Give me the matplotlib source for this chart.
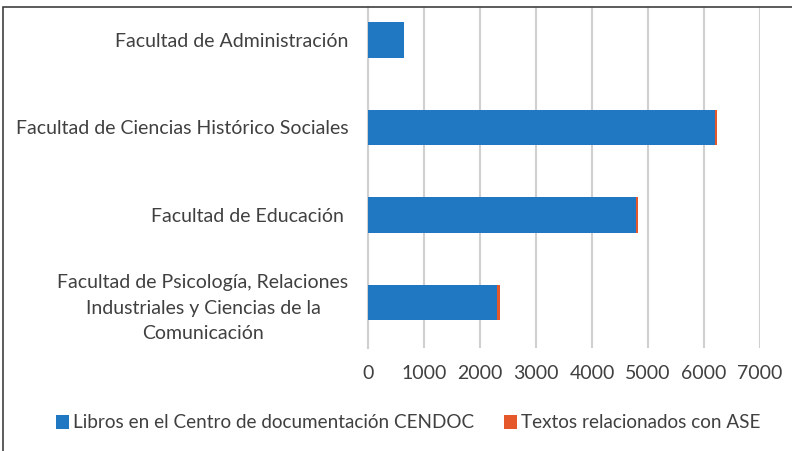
import matplotlib.pyplot as plt
from matplotlib.patches import Rectangle

facultades = [
    "Facultad de Administración",
    "Facultad de Ciencias Histórico Sociales",
    "Facultad de Educación ",
    "Facultad de Psicología, Relaciones\nIndustriales y Ciencias de la\nComunicación",
]
libros = [640, 6190, 4780, 2310]
textos_ase = [6, 35, 35, 40]
x_ticks = [0, 1000, 2000, 3000, 4000, 5000, 6000, 7000]

azul = "#2078C2"
naranja = "#E4582B"
gris_texto = "#404040"


def main():
    plt.rcParams['font.family'] = ['Lato', 'DejaVu Sans']
    fig = plt.figure(figsize=(7.92, 4.51), dpi=100)
    W, H = 792, 451
    ax = fig.add_axes([368 / W, 1 - 348 / H, (760 - 368) / W, (348 - 7) / H])

    pos = list(range(len(facultades)))
    ax.barh(pos, libros, height=0.41, color=azul, label="Libros en el Centro de documentación CENDOC", zorder=3)
    ax.barh(pos, textos_ase, left=libros, height=0.41, color=naranja,
            label="Textos relacionados con ASE", zorder=3)

    ax.set_ylim(3.52, -0.377)
    ax.set_xlim(0, 7000)
    ax.set_xticks(x_ticks)
    ax.set_xticklabels([str(t) for t in x_ticks])
    ax.set_yticks(pos)
    ax.set_yticklabels(facultades, multialignment='center', linespacing=1.58)
    ax.tick_params(axis='both', length=0, labelsize=14, colors=gris_texto)
    ax.tick_params(axis='y', pad=14)
    ax.tick_params(axis='x', pad=12)

    ax.grid(axis='x', color='#d0d0d0', linewidth=1.5, zorder=0)
    for s in ['top', 'right', 'bottom']:
        ax.spines[s].set_visible(False)
    ax.spines['left'].set_color('#d0d0d0')
    ax.spines['left'].set_linewidth(1.5)

    fig.legend(loc='center', bbox_to_anchor=(408 / W, 1 - 423 / H), ncol=2, frameon=False,
               fontsize=13.6, handlelength=0.7, handleheight=0.7, handletextpad=0.2,
               columnspacing=1.6, labelcolor=gris_texto)

    fig.patches.append(Rectangle((3 / W, -0.1), 1.2, 1.1 - 7 / H, transform=fig.transFigure,
                                 fill=False, edgecolor='#404040', linewidth=1.2))

    fig.savefig("out.png", dpi=100)


if __name__ == "__main__":
    main()
